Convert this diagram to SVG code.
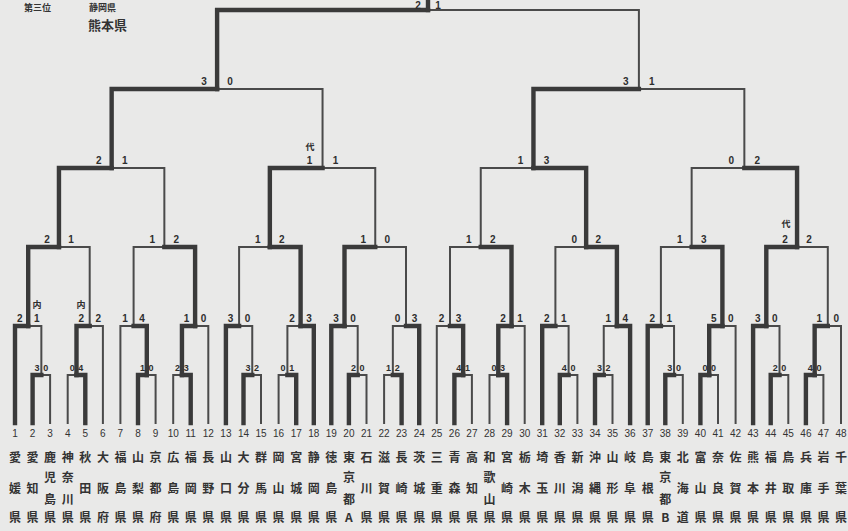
<svg xmlns="http://www.w3.org/2000/svg" width="848" height="531" viewBox="0 0 848 531">
<style>
.bg{fill:#e9e9e8}
.thin{fill:none;stroke:#4a4a4a;stroke-width:2;stroke-linecap:square;stroke-linejoin:miter}
.thick{fill:none;stroke:#3a3a3a;stroke-width:4.4;stroke-linecap:square;stroke-linejoin:miter}
.sc{font-family:"Liberation Sans",Arial,sans-serif;font-size:10px;font-weight:bold;fill:#2e2e2e;text-anchor:middle}
.sp{font-family:"Liberation Sans",Arial,sans-serif;font-size:9px;font-weight:bold;fill:#2e2e2e;text-anchor:middle}
.an{font-family:"Noto Sans CJK JP",sans-serif;font-size:9px;font-weight:bold;fill:#2e2e2e;text-anchor:middle}
.num{font-family:"Liberation Sans",Arial,sans-serif;font-size:10px;fill:#333;text-anchor:middle}
.jp{font-family:"Noto Sans CJK JP",sans-serif;font-size:12px;font-weight:bold;fill:#333;text-anchor:middle}
.hd{font-family:"Noto Sans CJK JP",sans-serif;font-size:9px;font-weight:bold;fill:#333}
.hd2{font-family:"Noto Sans CJK JP",sans-serif;font-size:13px;font-weight:bold;fill:#333}
</style>
<rect class="bg" x="0" y="0" width="848" height="531"/>
<g id="header">
<text class="hd" x="24" y="11">第三位</text>
<text class="hd" x="89" y="11">静岡県</text>
<text class="hd2" x="88" y="29.5">熊本県</text>
</g>
<g id="connectors">
<g id="losers">
<path class="thin" d="M50.1,423V375H41.35"/>
<path class="thin" d="M67.7,423V375H76.5"/>
<path class="thin" d="M155.6,423V375H146.8"/>
<path class="thin" d="M173.2,423V375H181.95"/>
<path class="thin" d="M261,423V375H252.25"/>
<path class="thin" d="M278.6,423V375H287.4"/>
<path class="thin" d="M366.5,423V375H357.7"/>
<path class="thin" d="M384.1,423V375H392.85"/>
<path class="thin" d="M471.9,423V375H463.15"/>
<path class="thin" d="M489.5,423V375H498.3"/>
<path class="thin" d="M577.4,423V375H568.6"/>
<path class="thin" d="M612.5,423V375H603.75"/>
<path class="thin" d="M682.8,423V375H674.05"/>
<path class="thin" d="M718,423V375H709.2"/>
<path class="thin" d="M788.3,423V375H779.5"/>
<path class="thin" d="M823.4,423V375H814.65"/>
<path class="thin" d="M41.35,375V326H28.2"/>
<path class="thin" d="M102.9,423V326H89.7"/>
<path class="thin" d="M120.4,423V326H133.6"/>
<path class="thin" d="M208.3,423V326H195.1"/>
<path class="thin" d="M252.25,375V326H239.1"/>
<path class="thin" d="M287.4,375V326H300.6"/>
<path class="thin" d="M357.7,375V326H344.5"/>
<path class="thin" d="M392.85,375V326H406"/>
<path class="thin" d="M436.8,423V326H450"/>
<path class="thin" d="M524.7,423V326H511.5"/>
<path class="thin" d="M568.6,375V326H555.4"/>
<path class="thin" d="M603.75,375V326H616.9"/>
<path class="thin" d="M674.05,375V326H660.9"/>
<path class="thin" d="M735.6,423V326H722.4"/>
<path class="thin" d="M779.5,375V326H766.3"/>
<path class="thin" d="M841,423V326H827.8"/>
<path class="thin" d="M89.7,326V247H58.95"/>
<path class="thin" d="M133.6,326V247H164.35"/>
<path class="thin" d="M239.1,326V247H269.85"/>
<path class="thin" d="M406,326V247H375.25"/>
<path class="thin" d="M450,326V247H480.75"/>
<path class="thin" d="M555.4,326V247H586.15"/>
<path class="thin" d="M660.9,326V247H691.65"/>
<path class="thin" d="M827.8,326V247H797.05"/>
<path class="thin" d="M164.35,247V168H111.65"/>
<path class="thin" d="M375.25,247V168H322.55"/>
<path class="thin" d="M480.75,247V168H533.45"/>
<path class="thin" d="M691.65,247V168H744.35"/>
<path class="thin" d="M322.55,168V89H217.1"/>
<path class="thin" d="M744.35,168V89H638.9"/>
<path class="thin" d="M638.9,89V10H428"/>
</g>
<g id="winners">
<path class="thick" d="M32.6,423V375H41.35"/>
<path class="thick" d="M85.3,423V375H76.5"/>
<path class="thick" d="M138,423V375H146.8"/>
<path class="thick" d="M190.7,423V375H181.95"/>
<path class="thick" d="M243.5,423V375H252.25"/>
<path class="thick" d="M296.2,423V375H287.4"/>
<path class="thick" d="M348.9,423V375H357.7"/>
<path class="thick" d="M401.6,423V375H392.85"/>
<path class="thick" d="M454.4,423V375H463.15"/>
<path class="thick" d="M507.1,423V375H498.3"/>
<path class="thick" d="M559.8,423V375H568.6"/>
<path class="thick" d="M595,423V375H603.75"/>
<path class="thick" d="M665.3,423V375H674.05"/>
<path class="thick" d="M700.4,423V375H709.2"/>
<path class="thick" d="M770.7,423V375H779.5"/>
<path class="thick" d="M805.9,423V375H814.65"/>
<path class="thick" d="M15,423V326H28.2"/>
<path class="thick" d="M76.5,375V326H89.7"/>
<path class="thick" d="M146.8,375V326H133.6"/>
<path class="thick" d="M181.95,375V326H195.1"/>
<path class="thick" d="M225.9,423V326H239.1"/>
<path class="thick" d="M313.8,423V326H300.6"/>
<path class="thick" d="M331.3,423V326H344.5"/>
<path class="thick" d="M419.2,423V326H406"/>
<path class="thick" d="M463.15,375V326H450"/>
<path class="thick" d="M498.3,375V326H511.5"/>
<path class="thick" d="M542.2,423V326H555.4"/>
<path class="thick" d="M630.1,423V326H616.9"/>
<path class="thick" d="M647.7,423V326H660.9"/>
<path class="thick" d="M709.2,375V326H722.4"/>
<path class="thick" d="M753.1,423V326H766.3"/>
<path class="thick" d="M814.65,375V326H827.8"/>
<path class="thick" d="M28.2,326V247H58.95"/>
<path class="thick" d="M195.1,326V247H164.35"/>
<path class="thick" d="M300.6,326V247H269.85"/>
<path class="thick" d="M344.5,326V247H375.25"/>
<path class="thick" d="M511.5,326V247H480.75"/>
<path class="thick" d="M616.9,326V247H586.15"/>
<path class="thick" d="M722.4,326V247H691.65"/>
<path class="thick" d="M766.3,326V247H797.05"/>
<path class="thick" d="M58.95,247V168H111.65"/>
<path class="thick" d="M269.85,247V168H322.55"/>
<path class="thick" d="M586.15,247V168H533.45"/>
<path class="thick" d="M797.05,247V168H744.35"/>
<path class="thick" d="M111.65,168V89H217.1"/>
<path class="thick" d="M533.45,168V89H638.9"/>
<path class="thick" d="M217.1,89V10H428"/>
<path class="thick" d="M428,10V-4"/>
</g>
</g>
<g id="scores">
<text class="sp" x="37" y="371">3</text><text class="sp" x="45.7" y="371">0</text>
<text class="sp" x="72.2" y="371">0</text><text class="sp" x="80.8" y="371">4</text>
<text class="sp" x="142.5" y="371">1</text><text class="sp" x="151.1" y="371">0</text>
<text class="sp" x="177.6" y="371">2</text><text class="sp" x="186.3" y="371">3</text>
<text class="sp" x="247.9" y="371">3</text><text class="sp" x="256.6" y="371">2</text>
<text class="sp" x="283.1" y="371">0</text><text class="sp" x="291.7" y="371">1</text>
<text class="sp" x="353.4" y="371">2</text><text class="sp" x="362" y="371">0</text>
<text class="sp" x="388.5" y="371">1</text><text class="sp" x="397.2" y="371">2</text>
<text class="sp" x="458.8" y="371">4</text><text class="sp" x="467.5" y="371">1</text>
<text class="sp" x="494" y="371">0</text><text class="sp" x="502.6" y="371">3</text>
<text class="sp" x="564.3" y="371">4</text><text class="sp" x="572.9" y="371">0</text>
<text class="sp" x="599.4" y="371">3</text><text class="sp" x="608.1" y="371">2</text>
<text class="sp" x="669.7" y="371">3</text><text class="sp" x="678.4" y="371">0</text>
<text class="sp" x="704.9" y="371">0</text><text class="sp" x="713.5" y="371">0</text>
<text class="sp" x="775.2" y="371">2</text><text class="sp" x="783.8" y="371">0</text>
<text class="sp" x="810.3" y="371">4</text><text class="sp" x="819" y="371">0</text>

<text class="sc" x="19.7" y="322">2</text><text class="sc" x="36.7" y="322">1</text>
<text class="sc" x="81.2" y="322">2</text><text class="sc" x="98.2" y="322">2</text>
<text class="sc" x="125.1" y="322">1</text><text class="sc" x="142.1" y="322">4</text>
<text class="sc" x="186.6" y="322">1</text><text class="sc" x="203.6" y="322">0</text>
<text class="sc" x="230.6" y="322">3</text><text class="sc" x="247.6" y="322">0</text>
<text class="sc" x="292.1" y="322">2</text><text class="sc" x="309.1" y="322">3</text>
<text class="sc" x="336" y="322">3</text><text class="sc" x="353" y="322">0</text>
<text class="sc" x="397.5" y="322">0</text><text class="sc" x="414.5" y="322">3</text>
<text class="sc" x="441.5" y="322">2</text><text class="sc" x="458.5" y="322">3</text>
<text class="sc" x="503" y="322">2</text><text class="sc" x="520" y="322">1</text>
<text class="sc" x="546.9" y="322">2</text><text class="sc" x="563.9" y="322">1</text>
<text class="sc" x="608.4" y="322">1</text><text class="sc" x="625.4" y="322">4</text>
<text class="sc" x="652.4" y="322">2</text><text class="sc" x="669.4" y="322">1</text>
<text class="sc" x="713.9" y="322">5</text><text class="sc" x="730.9" y="322">0</text>
<text class="sc" x="757.8" y="322">3</text><text class="sc" x="774.8" y="322">0</text>
<text class="sc" x="819.3" y="322">1</text><text class="sc" x="836.3" y="322">0</text>

<text class="sc" x="47" y="243">2</text><text class="sc" x="71" y="243">1</text>
<text class="sc" x="152.4" y="243">1</text><text class="sc" x="176.4" y="243">2</text>
<text class="sc" x="257.9" y="243">1</text><text class="sc" x="281.9" y="243">2</text>
<text class="sc" x="363.3" y="243">1</text><text class="sc" x="387.3" y="243">0</text>
<text class="sc" x="468.8" y="243">1</text><text class="sc" x="492.8" y="243">2</text>
<text class="sc" x="574.2" y="243">0</text><text class="sc" x="598.2" y="243">2</text>
<text class="sc" x="679.7" y="243">1</text><text class="sc" x="703.7" y="243">3</text>
<text class="sc" x="785.1" y="243">2</text><text class="sc" x="809.1" y="243">2</text>

<text class="sc" x="98.7" y="164">2</text><text class="sc" x="124.7" y="164">1</text>
<text class="sc" x="309.6" y="164">1</text><text class="sc" x="335.6" y="164">1</text>
<text class="sc" x="520.5" y="164">1</text><text class="sc" x="546.5" y="164">3</text>
<text class="sc" x="731.4" y="164">0</text><text class="sc" x="757.4" y="164">2</text>

<text class="sc" x="204.1" y="85">3</text><text class="sc" x="230.1" y="85">0</text>
<text class="sc" x="625.9" y="85">3</text><text class="sc" x="651.9" y="85">1</text>

<text class="sc" x="418" y="9">2</text><text class="sc" x="438" y="9">1</text>

<text class="an" x="37" y="308">内</text>
<text class="an" x="81" y="308">内</text>
<text class="an" x="310" y="150">代</text>
<text class="an" x="786" y="227">代</text>
</g>
<g id="teams">
<g id="team-1"><text class="num" x="15" y="436.5">1</text><text class="jp"><tspan x="15" y="461.5">愛</tspan><tspan x="15" y="492.5">媛</tspan><tspan x="15" y="521.5">県</tspan></text></g>
<g id="team-2"><text class="num" x="32.6" y="436.5">2</text><text class="jp"><tspan x="32.6" y="461.5">愛</tspan><tspan x="32.6" y="492.5">知</tspan><tspan x="32.6" y="521.5">県</tspan></text></g>
<g id="team-3"><text class="num" x="50.1" y="436.5">3</text><text class="jp"><tspan x="50.1" y="461.5">鹿</tspan><tspan x="50.1" y="481.5">児</tspan><tspan x="50.1" y="503.5">島</tspan><tspan x="50.1" y="521.5">県</tspan></text></g>
<g id="team-4"><text class="num" x="67.7" y="436.5">4</text><text class="jp"><tspan x="67.7" y="461.5">神</tspan><tspan x="67.7" y="481.5">奈</tspan><tspan x="67.7" y="503.5">川</tspan><tspan x="67.7" y="521.5">県</tspan></text></g>
<g id="team-5"><text class="num" x="85.3" y="436.5">5</text><text class="jp"><tspan x="85.3" y="461.5">秋</tspan><tspan x="85.3" y="492.5">田</tspan><tspan x="85.3" y="521.5">県</tspan></text></g>
<g id="team-6"><text class="num" x="102.9" y="436.5">6</text><text class="jp"><tspan x="102.9" y="461.5">大</tspan><tspan x="102.9" y="492.5">阪</tspan><tspan x="102.9" y="521.5">府</tspan></text></g>
<g id="team-7"><text class="num" x="120.4" y="436.5">7</text><text class="jp"><tspan x="120.4" y="461.5">福</tspan><tspan x="120.4" y="492.5">島</tspan><tspan x="120.4" y="521.5">県</tspan></text></g>
<g id="team-8"><text class="num" x="138" y="436.5">8</text><text class="jp"><tspan x="138" y="461.5">山</tspan><tspan x="138" y="492.5">梨</tspan><tspan x="138" y="521.5">県</tspan></text></g>
<g id="team-9"><text class="num" x="155.6" y="436.5">9</text><text class="jp"><tspan x="155.6" y="461.5">京</tspan><tspan x="155.6" y="492.5">都</tspan><tspan x="155.6" y="521.5">府</tspan></text></g>
<g id="team-10"><text class="num" x="173.2" y="436.5">10</text><text class="jp"><tspan x="173.2" y="461.5">広</tspan><tspan x="173.2" y="492.5">島</tspan><tspan x="173.2" y="521.5">県</tspan></text></g>
<g id="team-11"><text class="num" x="190.7" y="436.5">11</text><text class="jp"><tspan x="190.7" y="461.5">福</tspan><tspan x="190.7" y="492.5">岡</tspan><tspan x="190.7" y="521.5">県</tspan></text></g>
<g id="team-12"><text class="num" x="208.3" y="436.5">12</text><text class="jp"><tspan x="208.3" y="461.5">長</tspan><tspan x="208.3" y="492.5">野</tspan><tspan x="208.3" y="521.5">県</tspan></text></g>
<g id="team-13"><text class="num" x="225.9" y="436.5">13</text><text class="jp"><tspan x="225.9" y="461.5">山</tspan><tspan x="225.9" y="492.5">口</tspan><tspan x="225.9" y="521.5">県</tspan></text></g>
<g id="team-14"><text class="num" x="243.5" y="436.5">14</text><text class="jp"><tspan x="243.5" y="461.5">大</tspan><tspan x="243.5" y="492.5">分</tspan><tspan x="243.5" y="521.5">県</tspan></text></g>
<g id="team-15"><text class="num" x="261" y="436.5">15</text><text class="jp"><tspan x="261" y="461.5">群</tspan><tspan x="261" y="492.5">馬</tspan><tspan x="261" y="521.5">県</tspan></text></g>
<g id="team-16"><text class="num" x="278.6" y="436.5">16</text><text class="jp"><tspan x="278.6" y="461.5">岡</tspan><tspan x="278.6" y="492.5">山</tspan><tspan x="278.6" y="521.5">県</tspan></text></g>
<g id="team-17"><text class="num" x="296.2" y="436.5">17</text><text class="jp"><tspan x="296.2" y="461.5">宮</tspan><tspan x="296.2" y="492.5">城</tspan><tspan x="296.2" y="521.5">県</tspan></text></g>
<g id="team-18"><text class="num" x="313.8" y="436.5">18</text><text class="jp"><tspan x="313.8" y="461.5">静</tspan><tspan x="313.8" y="492.5">岡</tspan><tspan x="313.8" y="521.5">県</tspan></text></g>
<g id="team-19"><text class="num" x="331.3" y="436.5">19</text><text class="jp"><tspan x="331.3" y="461.5">徳</tspan><tspan x="331.3" y="492.5">島</tspan><tspan x="331.3" y="521.5">県</tspan></text></g>
<g id="team-20"><text class="num" x="348.9" y="436.5">20</text><text class="jp"><tspan x="348.9" y="461.5">東</tspan><tspan x="348.9" y="481.5">京</tspan><tspan x="348.9" y="503.5">都</tspan><tspan x="348.9" y="521.5">A</tspan></text></g>
<g id="team-21"><text class="num" x="366.5" y="436.5">21</text><text class="jp"><tspan x="366.5" y="461.5">石</tspan><tspan x="366.5" y="492.5">川</tspan><tspan x="366.5" y="521.5">県</tspan></text></g>
<g id="team-22"><text class="num" x="384.1" y="436.5">22</text><text class="jp"><tspan x="384.1" y="461.5">滋</tspan><tspan x="384.1" y="492.5">賀</tspan><tspan x="384.1" y="521.5">県</tspan></text></g>
<g id="team-23"><text class="num" x="401.6" y="436.5">23</text><text class="jp"><tspan x="401.6" y="461.5">長</tspan><tspan x="401.6" y="492.5">崎</tspan><tspan x="401.6" y="521.5">県</tspan></text></g>
<g id="team-24"><text class="num" x="419.2" y="436.5">24</text><text class="jp"><tspan x="419.2" y="461.5">茨</tspan><tspan x="419.2" y="492.5">城</tspan><tspan x="419.2" y="521.5">県</tspan></text></g>
<g id="team-25"><text class="num" x="436.8" y="436.5">25</text><text class="jp"><tspan x="436.8" y="461.5">三</tspan><tspan x="436.8" y="492.5">重</tspan><tspan x="436.8" y="521.5">県</tspan></text></g>
<g id="team-26"><text class="num" x="454.4" y="436.5">26</text><text class="jp"><tspan x="454.4" y="461.5">青</tspan><tspan x="454.4" y="492.5">森</tspan><tspan x="454.4" y="521.5">県</tspan></text></g>
<g id="team-27"><text class="num" x="471.9" y="436.5">27</text><text class="jp"><tspan x="471.9" y="461.5">高</tspan><tspan x="471.9" y="492.5">知</tspan><tspan x="471.9" y="521.5">県</tspan></text></g>
<g id="team-28"><text class="num" x="489.5" y="436.5">28</text><text class="jp"><tspan x="489.5" y="461.5">和</tspan><tspan x="489.5" y="481.5">歌</tspan><tspan x="489.5" y="503.5">山</tspan><tspan x="489.5" y="521.5">県</tspan></text></g>
<g id="team-29"><text class="num" x="507.1" y="436.5">29</text><text class="jp"><tspan x="507.1" y="461.5">宮</tspan><tspan x="507.1" y="492.5">崎</tspan><tspan x="507.1" y="521.5">県</tspan></text></g>
<g id="team-30"><text class="num" x="524.7" y="436.5">30</text><text class="jp"><tspan x="524.7" y="461.5">栃</tspan><tspan x="524.7" y="492.5">木</tspan><tspan x="524.7" y="521.5">県</tspan></text></g>
<g id="team-31"><text class="num" x="542.2" y="436.5">31</text><text class="jp"><tspan x="542.2" y="461.5">埼</tspan><tspan x="542.2" y="492.5">玉</tspan><tspan x="542.2" y="521.5">県</tspan></text></g>
<g id="team-32"><text class="num" x="559.8" y="436.5">32</text><text class="jp"><tspan x="559.8" y="461.5">香</tspan><tspan x="559.8" y="492.5">川</tspan><tspan x="559.8" y="521.5">県</tspan></text></g>
<g id="team-33"><text class="num" x="577.4" y="436.5">33</text><text class="jp"><tspan x="577.4" y="461.5">新</tspan><tspan x="577.4" y="492.5">潟</tspan><tspan x="577.4" y="521.5">県</tspan></text></g>
<g id="team-34"><text class="num" x="595" y="436.5">34</text><text class="jp"><tspan x="595" y="461.5">沖</tspan><tspan x="595" y="492.5">縄</tspan><tspan x="595" y="521.5">県</tspan></text></g>
<g id="team-35"><text class="num" x="612.5" y="436.5">35</text><text class="jp"><tspan x="612.5" y="461.5">山</tspan><tspan x="612.5" y="492.5">形</tspan><tspan x="612.5" y="521.5">県</tspan></text></g>
<g id="team-36"><text class="num" x="630.1" y="436.5">36</text><text class="jp"><tspan x="630.1" y="461.5">岐</tspan><tspan x="630.1" y="492.5">阜</tspan><tspan x="630.1" y="521.5">県</tspan></text></g>
<g id="team-37"><text class="num" x="647.7" y="436.5">37</text><text class="jp"><tspan x="647.7" y="461.5">島</tspan><tspan x="647.7" y="492.5">根</tspan><tspan x="647.7" y="521.5">県</tspan></text></g>
<g id="team-38"><text class="num" x="665.3" y="436.5">38</text><text class="jp"><tspan x="665.3" y="461.5">東</tspan><tspan x="665.3" y="481.5">京</tspan><tspan x="665.3" y="503.5">都</tspan><tspan x="665.3" y="521.5">B</tspan></text></g>
<g id="team-39"><text class="num" x="682.8" y="436.5">39</text><text class="jp"><tspan x="682.8" y="461.5">北</tspan><tspan x="682.8" y="492.5">海</tspan><tspan x="682.8" y="521.5">道</tspan></text></g>
<g id="team-40"><text class="num" x="700.4" y="436.5">40</text><text class="jp"><tspan x="700.4" y="461.5">富</tspan><tspan x="700.4" y="492.5">山</tspan><tspan x="700.4" y="521.5">県</tspan></text></g>
<g id="team-41"><text class="num" x="718" y="436.5">41</text><text class="jp"><tspan x="718" y="461.5">奈</tspan><tspan x="718" y="492.5">良</tspan><tspan x="718" y="521.5">県</tspan></text></g>
<g id="team-42"><text class="num" x="735.6" y="436.5">42</text><text class="jp"><tspan x="735.6" y="461.5">佐</tspan><tspan x="735.6" y="492.5">賀</tspan><tspan x="735.6" y="521.5">県</tspan></text></g>
<g id="team-43"><text class="num" x="753.1" y="436.5">43</text><text class="jp"><tspan x="753.1" y="461.5">熊</tspan><tspan x="753.1" y="492.5">本</tspan><tspan x="753.1" y="521.5">県</tspan></text></g>
<g id="team-44"><text class="num" x="770.7" y="436.5">44</text><text class="jp"><tspan x="770.7" y="461.5">福</tspan><tspan x="770.7" y="492.5">井</tspan><tspan x="770.7" y="521.5">県</tspan></text></g>
<g id="team-45"><text class="num" x="788.3" y="436.5">45</text><text class="jp"><tspan x="788.3" y="461.5">鳥</tspan><tspan x="788.3" y="492.5">取</tspan><tspan x="788.3" y="521.5">県</tspan></text></g>
<g id="team-46"><text class="num" x="805.9" y="436.5">46</text><text class="jp"><tspan x="805.9" y="461.5">兵</tspan><tspan x="805.9" y="492.5">庫</tspan><tspan x="805.9" y="521.5">県</tspan></text></g>
<g id="team-47"><text class="num" x="823.4" y="436.5">47</text><text class="jp"><tspan x="823.4" y="461.5">岩</tspan><tspan x="823.4" y="492.5">手</tspan><tspan x="823.4" y="521.5">県</tspan></text></g>
<g id="team-48"><text class="num" x="841" y="436.5">48</text><text class="jp"><tspan x="841" y="461.5">千</tspan><tspan x="841" y="492.5">葉</tspan><tspan x="841" y="521.5">県</tspan></text></g>
</g>
</svg>
